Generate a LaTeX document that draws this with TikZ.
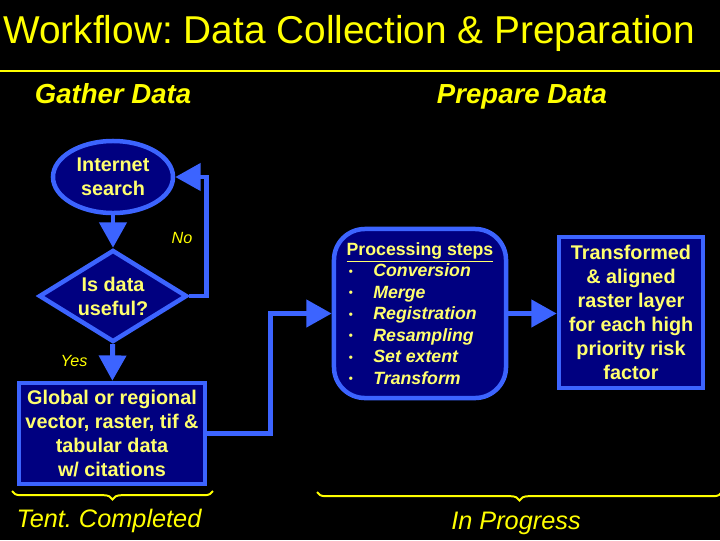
\documentclass[tikz,border=0pt]{standalone}
\usepackage{fontspec}
\setmainfont{Liberation Sans}
\usepackage{xcolor}
\usepackage{graphicx}
\usepackage{tikz}
\usetikzlibrary{arrows.meta, positioning, shapes.geometric, decorations.pathreplacing}
\frenchspacing

\definecolor{navyfill}{RGB}{0,0,128}
\definecolor{edgeblue}{RGB}{60,100,255}
\definecolor{headyellow}{RGB}{255,255,0}
\definecolor{boxyellow}{RGB}{255,255,110}

\newcommand{\stepitem}[1]{\hspace*{1.5pt}\makebox[17.5pt][l]{\raisebox{1pt}{\scalebox{0.65}{\textbullet}}}\textit{#1}}

\begin{document}
\begin{tikzpicture}[
    x=0.025cm, y=-0.025cm,
    block/.style={draw=edgeblue, line width=3.2pt, fill=navyfill,
                  text=boxyellow, align=center,
                  font=\bfseries\fontsize{14.1}{17}\selectfont},
    arrow/.style={-{Triangle[length=18pt,width=19pt]}, line width=3.5pt, draw=edgeblue},
    heading/.style={anchor=base, text=headyellow, font=\bfseries\itshape\fontsize{19.6}{22}\selectfont},
    status/.style={text=headyellow, font=\itshape\fontsize{18}{21}\selectfont},
    answer/.style={text=headyellow, font=\itshape\fontsize{11.5}{13}\selectfont},
    curly/.style={draw=headyellow, line width=1.4pt,
                  decorate, decoration={brace, mirror, amplitude=6pt}}
  ]
  \path[use as bounding box, fill=black] (0,0) rectangle (720,540);

  % title and rule
  \node[anchor=west, inner sep=0, text=headyellow,
        font=\fontsize{27.6}{30}\selectfont] (title) at (3,33)
        {Workflow: Data Collection \& Preparation};
  \draw[headyellow, line width=2.1pt] (0,71) -- (720,71);

  \node[heading] (gather)  at (113,103) {Gather Data};
  \node[heading] (prepare) at (522,103) {Prepare Data};

  % gather data loop
  \node[block, ellipse, inner sep=0, minimum width=3cm, minimum height=1.8cm]
        (search) at (113,177) {Internet\\search};
  \node[block, diamond, aspect=1.6, inner sep=0, minimum width=3.7cm, minimum height=2.3cm]
        (useful) at (113,296) {Is data\\useful?};
  \node[block, rectangle, minimum width=4.65cm, minimum height=2.525cm]
        (global) at (112,433.5) {Global or regional\\vector, raster, tif \&\\tabular data\\w/ citations};

  \draw[arrow] (search) -- (useful);
  \draw[arrow] (useful.east) -- ++(17,0) |- (search.east);
  \node[answer] (no) at (182,238) {No};
  \draw[arrow] (useful) -- (global);
  \node[answer] (yes) at (74,361) {Yes};

  % prepare data
  \node[block, rectangle, rounded corners=22pt, minimum width=4.3cm, minimum height=4.225cm,
        align=left, font=\bfseries\fontsize{12.6}{15.3}\selectfont]
        (steps) at (420,313.5)
        {\underline{Processing steps}\\
         \stepitem{Conversion}\\
         \stepitem{Merge}\\
         \stepitem{Registration}\\
         \stepitem{Resampling}\\
         \stepitem{Set extent}\\
         \stepitem{Transform}};
  \node[block, rectangle, minimum width=3.6cm, minimum height=3.775cm]
        (raster) at (631,312.5)
        {Transformed\\\& aligned\\raster layer\\for each high\\priority risk\\factor};

  \draw[arrow] (global.east) -- ++(63,0) |- (steps.west);
  \draw[arrow] (steps.east) -- (steps.east -| raster.west);

  % status braces
  \coordinate (tentL) at (12,491);
  \coordinate (tentR) at (213,491);
  \draw[curly] (tentL) -- (tentR);
  \node[status] (tent) at (109,521) {Tent. Completed};
  \coordinate (progL) at (317,492);
  \coordinate (progR) at (722,492);
  \draw[curly] (progL) -- (progR);
  \node[status] (progress) at (516,523) {In Progress};
\end{tikzpicture}
\end{document}
